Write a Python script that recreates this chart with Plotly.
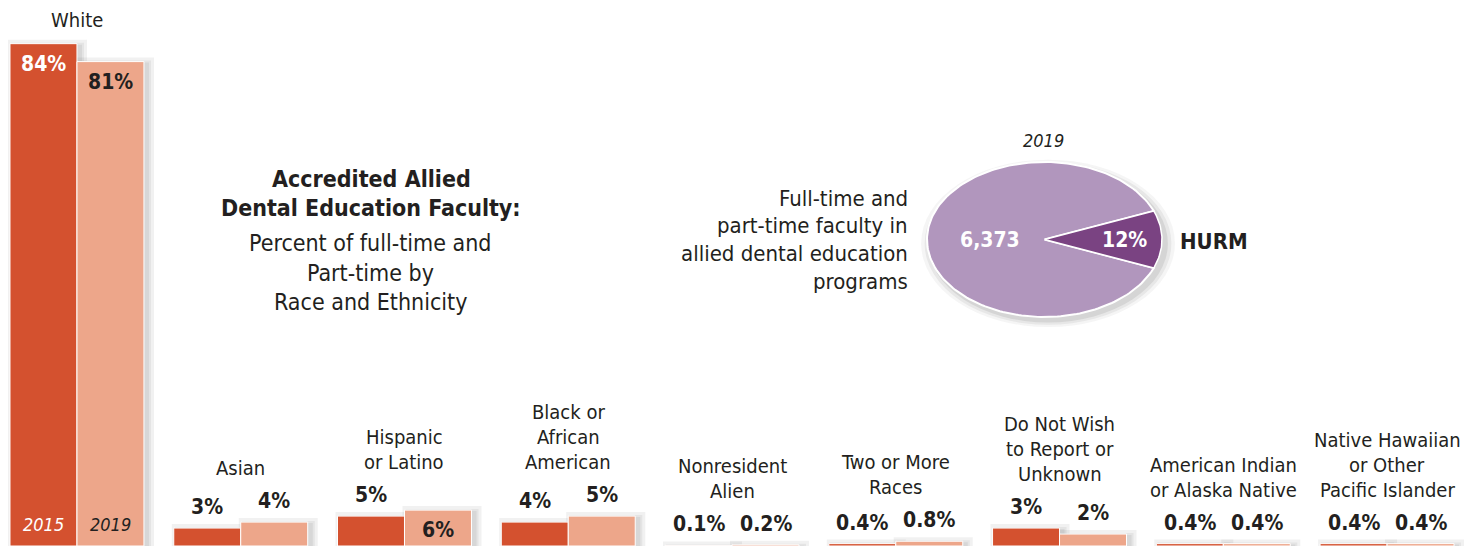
import numpy as np
import plotly.graph_objects as go

# ---- data -------------------------------------------------------------
categories = [
    "White", "Asian", "Hispanic or Latino", "Black or African American",
    "Nonresident Alien", "Two or More Races",
    "Do Not Wish to Report or Unknown", "American Indian or Alaska Native",
    "Native Hawaiian or Other Pacific Islander",
]
category_lines = [
    ["White"], ["Asian"], ["Hispanic", "or Latino"],
    ["Black or", "African", "American"], ["Nonresident", "Alien"],
    ["Two or More", "Races"], ["Do Not Wish", "to Report or", "Unknown"],
    ["American Indian", "or Alaska Native"],
    ["Native Hawaiian", "or Other", "Pacific Islander"],
]
years = ["2015", "2019"]
pct_2015 = [84, 3, 5, 4, 0.1, 0.4, 3, 0.4, 0.4]
pct_2019 = [81, 4, 6, 5, 0.2, 0.8, 2, 0.4, 0.4]

pie_year = "2019"
faculty_total = 6373
hurm_share = 12  # percent

title_bold = ["Accredited Allied", "Dental Education Faculty:"]
title_sub = ["Percent of full-time and", "Part-time by", "Race and Ethnicity"]
pie_caption = ["Full-time and", "part-time faculty in",
               "allied dental education", "programs"]

# ---- styling ----------------------------------------------------------
W, H = 1466, 546
FONT = "Liberation Sans Narrow, DejaVu Sans Condensed, Arial Narrow, Liberation Sans, sans-serif"
INK = "#231F20"
C2015 = "#D4512F"
C2019 = "#EDA68A"
PIE_LIGHT = "#B196BD"
PIE_DARK = "#7A4382"
Y_MIN, Y_MAX = 0.0, 91.3
X_RANGE = [-0.470, 8.482]
PX_PER_PCT = H / (Y_MAX - Y_MIN)
PX_PER_CAT = W / (X_RANGE[1] - X_RANGE[0])
BARGAP = 0.182
BAR_W = (1 - BARGAP) / 2          # width of one bar in category units
BAR_SHIFT = BAR_W / 2 * PX_PER_CAT  # px from group centre to bar centre
INSIDE_MIN = 6  # values this large carry their label inside the bar

# pie placement: centre and radii in pixels, axes padded so the shadow fits
PIE_CX, PIE_CY, PIE_RX, PIE_RY = 1044.5, 239.5, 117.5, 77.5
PIE_PAD = 1.25


def px(x, y):
    """pixel position -> paper coordinates"""
    return x / W, 1 - y / H


def fmt(v):
    return f"{v:.1f}%" if v < 1 else f"{v:.0f}%"


fig = go.Figure()

for name, vals, color in zip(years, [pct_2015, pct_2019], [C2015, C2019]):
    fig.add_bar(
        x=categories, y=vals, name=name,
        marker=dict(color=color, line=dict(color="white", width=1)),
        hoverinfo="x+y",
    )

shapes = []
# soft drop shadow behind every bar (a few widening translucent layers)
for i in range(len(categories)):
    for j, vals in enumerate([pct_2015, pct_2019]):
        left = i - (1 - BARGAP) / 2 + j * BAR_W
        right = left + BAR_W
        top = vals[i]
        for grow in (1, 3, 6):
            g_x = grow / PX_PER_CAT
            g_y = grow / PX_PER_PCT
            dx = 4 / PX_PER_CAT
            dy = 2 / PX_PER_PCT
            shapes.append(dict(
                type="rect", xref="x", yref="y", layer="below",
                x0=left - g_x + dx, x1=right + g_x + dx,
                y0=-5, y1=top + g_y - dy,
                fillcolor="rgba(60,60,60,0.07)", line=dict(width=0),
            ))

annotations = []

# value labels and category labels
for i, cat in enumerate(categories):
    best = None
    for j, vals in enumerate([pct_2015, pct_2019]):
        v = vals[i]
        inside = v >= INSIDE_MIN
        color = "white" if (inside and j == 0) else INK
        annotations.append(dict(
            x=cat, xref="x", y=v, yref="y",
            xshift=(-BAR_SHIFT if j == 0 else BAR_SHIFT),
            yshift=(-20 if inside else 21),
            text=f"<b>{fmt(v)}</b>", showarrow=False,
            font=dict(family=FONT, size=21, color=color),
            xanchor="center", yanchor="middle",
        ))
        lift = 24 if inside else 54
        height = v * PX_PER_PCT + lift
        if best is None or height > best[0]:
            best = (height, v, lift)
    _, anchor_v, lift = best
    lines = category_lines[i]
    n = len(lines)
    for k, line in enumerate(lines):
        annotations.append(dict(
            x=cat, xref="x", y=anchor_v, yref="y",
            yshift=lift + (n - 1 - k) * 25,
            text=line, showarrow=False,
            font=dict(family=FONT, size=20, color=INK),
            xanchor="center", yanchor="middle",
        ))

# year labels inside the tallest pair of bars
for j, yr in enumerate(years):
    annotations.append(dict(
        x=categories[0], xref="x", y=0, yref="y",
        xshift=(-BAR_SHIFT if j == 0 else BAR_SHIFT), yshift=22,
        text=f"<i>{yr}</i>", showarrow=False,
        font=dict(family=FONT, size=18, color=("white" if j == 0 else INK)),
        xanchor="center", yanchor="middle",
    ))

# title block
for k, line in enumerate(title_bold):
    x, y = px(371, 179 + k * 29)
    annotations.append(dict(
        x=x, y=y, xref="paper", yref="paper", text=f"<b>{line}</b>",
        showarrow=False, font=dict(family=FONT, size=23, color=INK),
        xanchor="center", yanchor="middle",
    ))
for k, line in enumerate(title_sub):
    x, y = px(370, 243 + k * 29.5)
    annotations.append(dict(
        x=x, y=y, xref="paper", yref="paper", text=line,
        showarrow=False, font=dict(family=FONT, size=23, color=INK),
        xanchor="center", yanchor="middle",
    ))
for k, line in enumerate(pie_caption):
    x, y = px(910, 198 + k * 27.7)
    annotations.append(dict(
        x=x, y=y, xref="paper", yref="paper", text=line,
        showarrow=False, font=dict(family=FONT, size=22, color=INK),
        xanchor="right", yanchor="middle",
    ))

# ---- elliptical pie on its own axes -------------------------------------
half = np.pi * hurm_share / 100.0
t_big = np.linspace(half, 2 * np.pi - half, 200)
t_small = np.linspace(-half, half, 40)
for grow, alpha in ((0.02, 0.10), (0.05, 0.07), (0.08, 0.05)):
    shapes.append(dict(
        type="circle", xref="x2", yref="y2", layer="below",
        x0=-1 - grow + 0.03, x1=1 + grow + 0.03,
        y0=-1 - grow - 0.05, y1=1 + grow - 0.05,
        fillcolor=f"rgba(60,60,60,{alpha})", line=dict(width=0),
    ))
fig.add_scatter(
    x=np.r_[0, np.cos(t_big), 0], y=np.r_[0, np.sin(t_big), 0],
    xaxis="x2", yaxis="y2", mode="lines", fill="toself",
    fillcolor=PIE_LIGHT, line=dict(color="white", width=2),
    name="Other", hoverinfo="name",
)
fig.add_scatter(
    x=np.r_[0, np.cos(t_small), 0], y=np.r_[0, np.sin(t_small), 0],
    xaxis="x2", yaxis="y2", mode="lines", fill="toself",
    fillcolor=PIE_DARK, line=dict(color="white", width=1.5),
    name="HURM", hoverinfo="name",
)
annotations += [
    dict(x=-0.46, y=0, xref="x2", yref="y2", text=f"<b>{faculty_total:,}</b>",
         showarrow=False, font=dict(family=FONT, size=21, color="white")),
    dict(x=0.685, y=0, xref="x2", yref="y2", text=f"<b>{hurm_share}%</b>",
         showarrow=False, font=dict(family=FONT, size=21, color="white")),
]
x, y = px(1178, 241)
annotations.append(dict(
    x=x, y=y, xref="paper", yref="paper", text="<b>HURM</b>",
    xanchor="left", yanchor="middle", showarrow=False,
    font=dict(family=FONT, size=22, color=INK)))
x, y = px(1043, 141)
annotations.append(dict(
    x=x, y=y, xref="paper", yref="paper", text=f"<i>{pie_year}</i>",
    xanchor="center", yanchor="middle", showarrow=False,
    font=dict(family=FONT, size=18, color=INK)))

fig.update_layout(
    width=W, height=H, margin=dict(l=0, r=0, t=0, b=0),
    paper_bgcolor="white", plot_bgcolor="rgba(0,0,0,0)",
    barmode="group", bargap=BARGAP, bargroupgap=0.0,
    showlegend=False, annotations=annotations, shapes=shapes,
    xaxis=dict(type="category", range=X_RANGE, visible=False, fixedrange=True),
    yaxis=dict(range=[Y_MIN, Y_MAX], visible=False, fixedrange=True),
    xaxis2=dict(domain=[(PIE_CX - PIE_PAD * PIE_RX) / W,
                        (PIE_CX + PIE_PAD * PIE_RX) / W],
                range=[-PIE_PAD, PIE_PAD], visible=False,
                anchor="y2", fixedrange=True),
    yaxis2=dict(domain=[(H - PIE_CY - PIE_PAD * PIE_RY) / H,
                        (H - PIE_CY + PIE_PAD * PIE_RY) / H],
                range=[-PIE_PAD, PIE_PAD], visible=False,
                anchor="x2", fixedrange=True),
)

fig.write_html("out.html")
